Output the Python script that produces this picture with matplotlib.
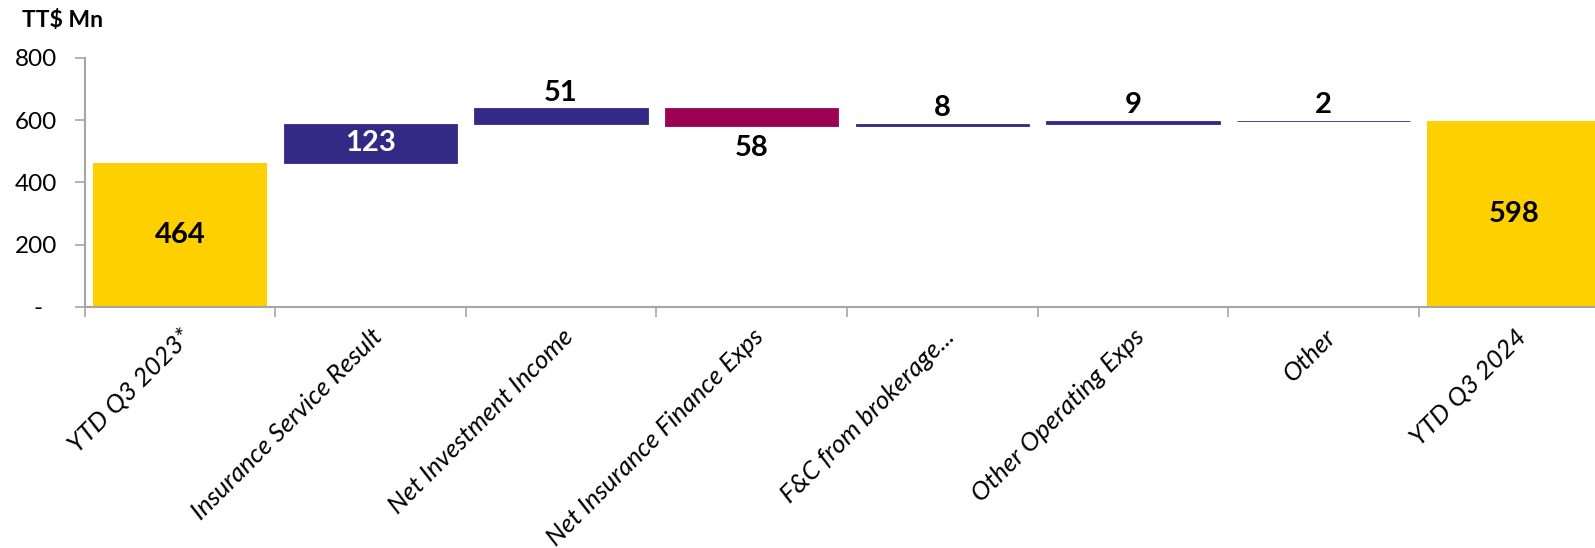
import numpy as np
import matplotlib
matplotlib.use('Agg')
from matplotlib import pyplot as plt
from matplotlib import transforms

plt.rcParams['font.family'] = ['Lato', 'DejaVu Sans']

# data
categories = ['YTD Q3 2023*', 'Insurance Service Result', 'Net Investment Income',
              'Net Insurance Finance Exps', 'F&C from brokerage...',
              'Other Operating Exps', 'Other', 'YTD Q3 2024']
start_val = 464
changes = [123, 51, -58, 8, 9, 2]
end_val = 598
yticks = [0, 200, 400, 600, 800]
yticklabels = ['-', '200', '400', '600', '800']

yellow = '#FFD000'
navy = '#332A86'
magenta = '#9C0055'
axcol = '#A6A6A6'

fig = plt.figure(figsize=(15.95, 5.48), dpi=100)
# axes runs slightly past the right edge, as in the source
ax = fig.add_axes([0.053, 0.4398, 0.956, 0.4545])

x = np.arange(len(categories))
w = 0.91
vfs = 21

# totals
ax.bar(x[0], start_val, width=w, color=yellow)
ax.bar(x[-1], end_val, width=w, color=yellow)
ax.text(x[0], start_val / 2, '{:d}'.format(start_val), ha='center', va='center',
        fontsize=vfs, fontweight='bold', color='black')
ax.text(x[-1], end_val / 2, '{:d}'.format(end_val), ha='center', va='center',
        fontsize=vfs, fontweight='bold', color='black')

# floating steps
level = start_val
for i, ch in enumerate(changes):
    xi = x[i + 1]
    bottom = level if ch >= 0 else level + ch
    clr = navy if ch >= 0 else magenta
    ax.bar(xi, abs(ch), bottom=bottom, width=w, color=clr, edgecolor=clr, linewidth=0.6)
    if abs(ch) > 100:
        ax.text(xi, bottom + abs(ch) / 2, '{:d}'.format(abs(ch)), ha='center', va='center',
                fontsize=vfs, fontweight='bold', color='white')
    elif ch >= 0:
        ax.annotate('{:d}'.format(ch), (xi, bottom + ch), xytext=(0, 2),
                    textcoords='offset points', ha='center', va='bottom',
                    fontsize=vfs, fontweight='bold', color='black')
    else:
        ax.annotate('{:d}'.format(-ch), (xi, bottom), xytext=(0, -6),
                    textcoords='offset points', ha='center', va='top',
                    fontsize=vfs, fontweight='bold', color='black')
    level += ch

ax.set_xlim(-0.5, len(categories) - 0.5)
ax.set_ylim(0, 800)
ax.set_yticks(yticks)
ax.set_yticklabels(yticklabels, fontsize=17.5)
ax.tick_params(axis='y', length=7, width=1.2, color=axcol, pad=13)
# excel-style dash sits left of the digits
off = transforms.ScaledTranslation(-10 / 72, 0, fig.dpi_scale_trans)
lbl0 = ax.get_yticklabels()[0]
lbl0.set_transform(lbl0.get_transform() + off)

ax.set_xticks(x)
ax.set_xticklabels(categories, rotation=45, ha='right', rotation_mode='anchor',
                   fontsize=18.5, fontstyle='italic')
ax.tick_params(axis='x', length=0, pad=13)
ax.set_xticks(np.arange(len(categories) + 1) - 0.5, minor=True)
ax.tick_params(axis='x', which='minor', length=7, width=1.2, color=axcol)

for s in ['top', 'right']:
    ax.spines[s].set_visible(False)
for s in ['left', 'bottom']:
    ax.spines[s].set_color(axcol)
    ax.spines[s].set_linewidth(1.5)

fig.text(0.0138, 0.963, 'TT$ Mn', fontsize=16.5, fontweight='bold', ha='left', va='center')

fig.savefig('out.png', dpi=100)
